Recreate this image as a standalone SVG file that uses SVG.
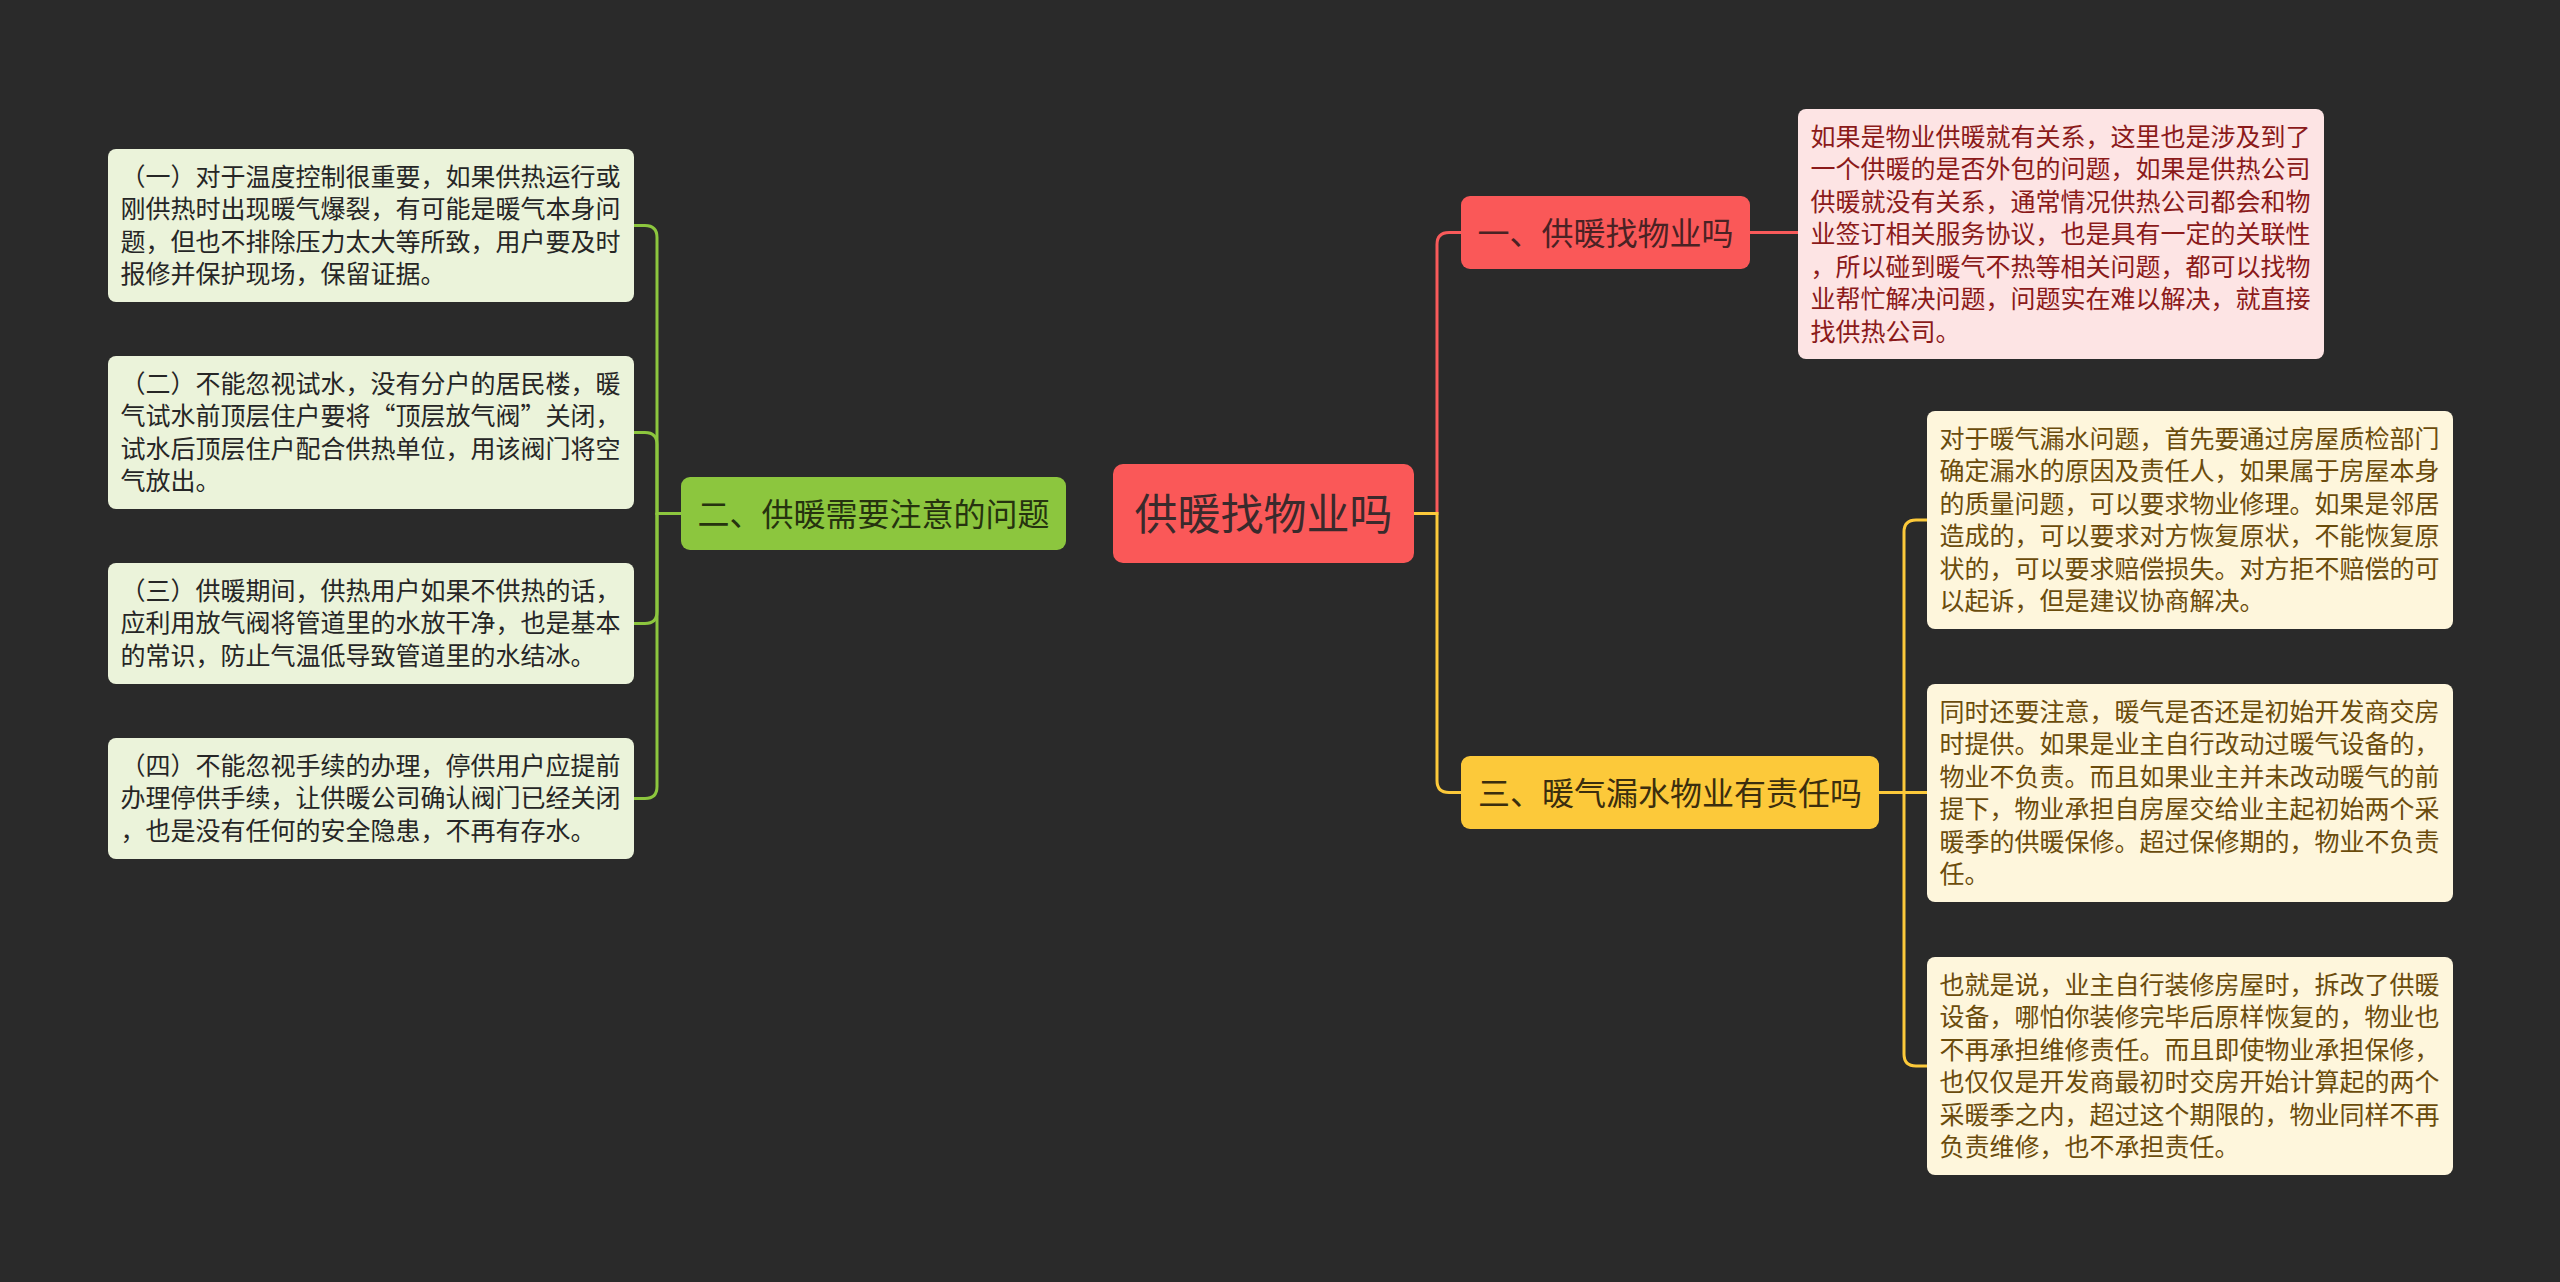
<svg xmlns="http://www.w3.org/2000/svg" width="2560" height="1282" viewBox="0 0 2560 1282">
<style>
.t{font-family:"Noto Sans CJK SC","Noto Sans",sans-serif;}
.leaf{font-size:25px;}
.main{font-size:32px;text-anchor:middle;}
.gl{fill:#ebf3da;}
.pl{fill:#fde4e4;}
.yl{fill:#fef6dc;}
.gt{fill:#262626;}
.pt{fill:#8b1a1a;}
.yt{fill:#6b4c0c;}
.c{fill:none;stroke-width:3;stroke-linecap:round;}
</style>
<rect x="0" y="0" width="2560" height="1282" fill="#2a2a2a"/>
<g id="connectors">
<path class="c" stroke="#8cc63e" d="M681 513.5 H657 V237.5 Q657 225.5 645 225.5 H634"/>
<path class="c" stroke="#8cc63e" d="M657 513.5 V444.5 Q657 432.5 645 432.5 H634"/>
<path class="c" stroke="#8cc63e" d="M657 513.5 V611.5 Q657 623.5 645 623.5 H634"/>
<path class="c" stroke="#8cc63e" d="M657 513.5 V786.5 Q657 798.5 645 798.5 H634"/>
<path class="c" stroke="#f95a5a" d="M1414 513.5 H1437 V244.5 Q1437 232.5 1449 232.5 H1461"/>
<path class="c" stroke="#f95a5a" d="M1750 232.5 H1798"/>
<path class="c" stroke="#fcc93a" d="M1414 513.5 H1437 V780.5 Q1437 792.5 1449 792.5 H1461"/>
<path class="c" stroke="#fcc93a" d="M1879 792.5 H1927"/>
<path class="c" stroke="#fcc93a" d="M1904 792.5 V532 Q1904 520 1916 520 H1927"/>
<path class="c" stroke="#fcc93a" d="M1904 792.5 V1054 Q1904 1066 1916 1066 H1927"/>
</g>
<g id="root">
<rect x="1113" y="464" width="301" height="99" rx="10" fill="#fa5858"/>
<text class="t" x="1263.5" y="529.5" font-size="43" text-anchor="middle" fill="#3a2a2c">供暖找物业吗</text>
</g>
<g id="branch2">
<rect x="681" y="477" width="385" height="73" rx="9" fill="#8cc63e"/>
<text class="t main" x="873.5" y="525.5" fill="#26330f">二、供暖需要注意的问题</text>
</g>
<g id="branch1">
<rect x="1461" y="196" width="289" height="73" rx="9" fill="#fa5858"/>
<text class="t main" x="1605.5" y="244.5" fill="#4a2224">一、供暖找物业吗</text>
</g>
<g id="branch3">
<rect x="1461" y="756" width="418" height="73" rx="9" fill="#fcc93a"/>
<text class="t main" x="1670" y="804.5" fill="#3b2e0e">三、暖气漏水物业有责任吗</text>
</g>
<g id="leaf-g1">
<rect class="gl" x="108" y="149" width="526" height="153" rx="8"/>
<text class="t leaf gt"><tspan x="120.5" y="185.5">（一）对于温度控制很重要，如果供热运行或</tspan><tspan x="120.5" y="218">刚供热时出现暖气爆裂，有可能是暖气本身问</tspan><tspan x="120.5" y="250.5">题，但也不排除压力太大等所致，用户要及时</tspan><tspan x="120.5" y="283">报修并保护现场，保留证据。</tspan></text>
</g>
<g id="leaf-g2">
<rect class="gl" x="108" y="356" width="526" height="153" rx="8"/>
<text class="t leaf gt"><tspan x="120.5" y="392.5">（二）不能忽视试水，没有分户的居民楼，暖</tspan><tspan x="120.5" y="425">气试水前顶层住户要将“顶层放气阀”关闭，</tspan><tspan x="120.5" y="457.5">试水后顶层住户配合供热单位，用该阀门将空</tspan><tspan x="120.5" y="490">气放出。</tspan></text>
</g>
<g id="leaf-g3">
<rect class="gl" x="108" y="563" width="526" height="121" rx="8"/>
<text class="t leaf gt"><tspan x="120.5" y="599.5">（三）供暖期间，供热用户如果不供热的话，</tspan><tspan x="120.5" y="632">应利用放气阀将管道里的水放干净，也是基本</tspan><tspan x="120.5" y="664.5">的常识，防止气温低导致管道里的水结冰。</tspan></text>
</g>
<g id="leaf-g4">
<rect class="gl" x="108" y="738" width="526" height="121" rx="8"/>
<text class="t leaf gt"><tspan x="120.5" y="774.5">（四）不能忽视手续的办理，停供用户应提前</tspan><tspan x="120.5" y="807">办理停供手续，让供暖公司确认阀门已经关闭</tspan><tspan x="120.5" y="839.5">，也是没有任何的安全隐患，不再有存水。</tspan></text>
</g>
<g id="leaf-p1">
<rect class="pl" x="1798" y="109" width="526" height="250" rx="8"/>
<text class="t leaf pt"><tspan x="1810.5" y="145.5">如果是物业供暖就有关系，这里也是涉及到了</tspan><tspan x="1810.5" y="178">一个供暖的是否外包的问题，如果是供热公司</tspan><tspan x="1810.5" y="210.5">供暖就没有关系，通常情况供热公司都会和物</tspan><tspan x="1810.5" y="243">业签订相关服务协议，也是具有一定的关联性</tspan><tspan x="1810.5" y="275.5">，所以碰到暖气不热等相关问题，都可以找物</tspan><tspan x="1810.5" y="308">业帮忙解决问题，问题实在难以解决，就直接</tspan><tspan x="1810.5" y="340.5">找供热公司。</tspan></text>
</g>
<g id="leaf-y1">
<rect class="yl" x="1927" y="411" width="526" height="218" rx="8"/>
<text class="t leaf yt"><tspan x="1939.5" y="447.5">对于暖气漏水问题，首先要通过房屋质检部门</tspan><tspan x="1939.5" y="480">确定漏水的原因及责任人，如果属于房屋本身</tspan><tspan x="1939.5" y="512.5">的质量问题，可以要求物业修理。如果是邻居</tspan><tspan x="1939.5" y="545">造成的，可以要求对方恢复原状，不能恢复原</tspan><tspan x="1939.5" y="577.5">状的，可以要求赔偿损失。对方拒不赔偿的可</tspan><tspan x="1939.5" y="610">以起诉，但是建议协商解决。</tspan></text>
</g>
<g id="leaf-y2">
<rect class="yl" x="1927" y="684" width="526" height="218" rx="8"/>
<text class="t leaf yt"><tspan x="1939.5" y="720.5">同时还要注意，暖气是否还是初始开发商交房</tspan><tspan x="1939.5" y="753">时提供。如果是业主自行改动过暖气设备的，</tspan><tspan x="1939.5" y="785.5">物业不负责。而且如果业主并未改动暖气的前</tspan><tspan x="1939.5" y="818">提下，物业承担自房屋交给业主起初始两个采</tspan><tspan x="1939.5" y="850.5">暖季的供暖保修。超过保修期的，物业不负责</tspan><tspan x="1939.5" y="883">任。</tspan></text>
</g>
<g id="leaf-y3">
<rect class="yl" x="1927" y="957" width="526" height="218" rx="8"/>
<text class="t leaf yt"><tspan x="1939.5" y="993.5">也就是说，业主自行装修房屋时，拆改了供暖</tspan><tspan x="1939.5" y="1026">设备，哪怕你装修完毕后原样恢复的，物业也</tspan><tspan x="1939.5" y="1058.5">不再承担维修责任。而且即使物业承担保修，</tspan><tspan x="1939.5" y="1091">也仅仅是开发商最初时交房开始计算起的两个</tspan><tspan x="1939.5" y="1123.5">采暖季之内，超过这个期限的，物业同样不再</tspan><tspan x="1939.5" y="1156">负责维修，也不承担责任。</tspan></text>
</g>
</svg>
